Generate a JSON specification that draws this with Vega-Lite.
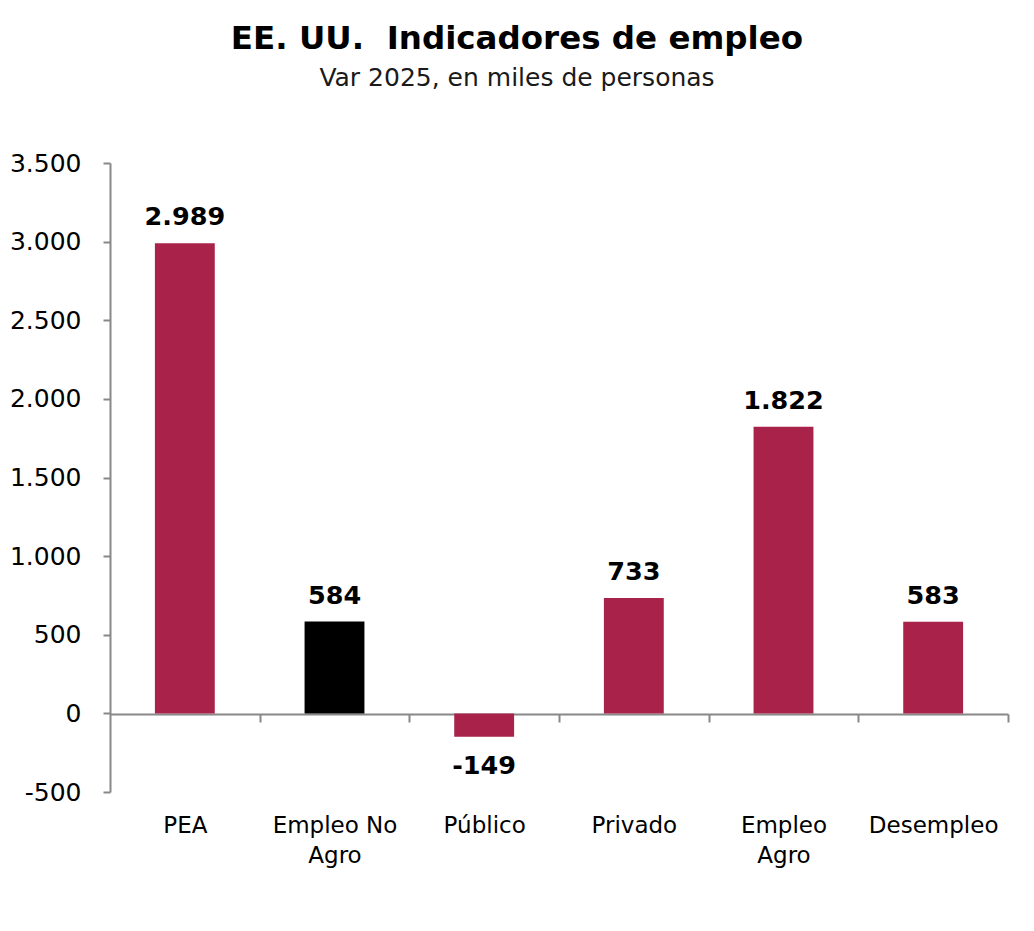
{
  "$schema": "https://vega.github.io/schema/vega-lite/v6.json",
  "width": 898,
  "height": 629,
  "autosize": {"type": "none"},
  "padding": {"left": 110, "top": 163, "right": 26, "bottom": 139},
  "background": "#ffffff",
  "config": {
    "font": "DejaVu Sans",
    "view": {"stroke": null}
  },
  "title": {
    "text": "EE. UU.\u00a0 Indicadores de empleo",
    "subtitle": "Var 2025, en miles de personas",
    "anchor": "middle",
    "dx": -42,
    "offset": 60,
    "font": "DejaVu Sans",
    "fontSize": 32.5,
    "fontWeight": "bold",
    "color": "#000000",
    "subtitleFont": "DejaVu Sans",
    "subtitleFontSize": 25,
    "subtitleColor": "#1a1a1a",
    "subtitlePadding": 11
  },
  "data": {
    "values": [
      {"cat": "PEA", "value": 2989},
      {"cat": "Empleo No Agro", "value": 584},
      {"cat": "Público", "value": -149},
      {"cat": "Privado", "value": 733},
      {"cat": "Empleo Agro", "value": 1822},
      {"cat": "Desempleo", "value": 583}
    ]
  },
  "transform": [
    {"calculate": "replace(replace(format(datum.value, ','), ',', '.'), '−', '-')", "as": "label"}
  ],
  "encoding": {
    "x": {
      "field": "cat",
      "type": "nominal",
      "sort": null,
      "scale": {"paddingInner": 0.6, "paddingOuter": 0.3},
      "axis": {
        "title": null,
        "offset": -78,
        "domainColor": "#888888",
        "domainWidth": 2,
        "tickColor": "#888888",
        "tickWidth": 2,
        "tickSize": 8,
        "tickOffset": 74.8,
        "labelOffset": -74.8,
        "labelAngle": 0,
        "labelFont": "DejaVu Sans",
        "labelFontSize": 23,
        "labelColor": "#000000",
        "labelPadding": 92,
        "labelBaseline": "top",
        "labelLineHeight": 30,
        "labelExpr": "datum.value == 'Empleo No Agro' ? ['Empleo No', 'Agro'] : datum.value == 'Empleo Agro' ? ['Empleo', 'Agro'] : datum.value"
      }
    },
    "y": {
      "field": "value",
      "type": "quantitative",
      "scale": {"domain": [-500, 3500], "nice": false, "zero": false},
      "axis": {
        "title": null,
        "grid": false,
        "values": [-500, 0, 500, 1000, 1500, 2000, 2500, 3000, 3500],
        "domainColor": "#888888",
        "domainWidth": 2,
        "tickColor": "#888888",
        "tickWidth": 2,
        "tickSize": 7,
        "labelFont": "DejaVu Sans",
        "labelFontSize": 25,
        "labelColor": "#000000",
        "labelPadding": 22,
        "labelExpr": "replace(replace(format(datum.value, ','), ',', '.'), '−', '-')"
      }
    }
  },
  "layer": [
    {
      "mark": {"type": "bar"},
      "encoding": {
        "color": {
          "condition": {"test": "datum.cat == 'Empleo No Agro'", "value": "#000000"},
          "value": "#A82249"
        }
      }
    },
    {
      "transform": [{"filter": "datum.value >= 0"}],
      "mark": {"type": "text", "baseline": "bottom", "dy": -13, "font": "DejaVu Sans", "fontSize": 25.5, "fontWeight": "bold", "color": "#000000"},
      "encoding": {"text": {"field": "label"}}
    },
    {
      "transform": [{"filter": "datum.value < 0"}],
      "mark": {"type": "text", "baseline": "top", "dy": 17, "font": "DejaVu Sans", "fontSize": 25.5, "fontWeight": "bold", "color": "#000000"},
      "encoding": {"text": {"field": "label"}}
    }
  ]
}
